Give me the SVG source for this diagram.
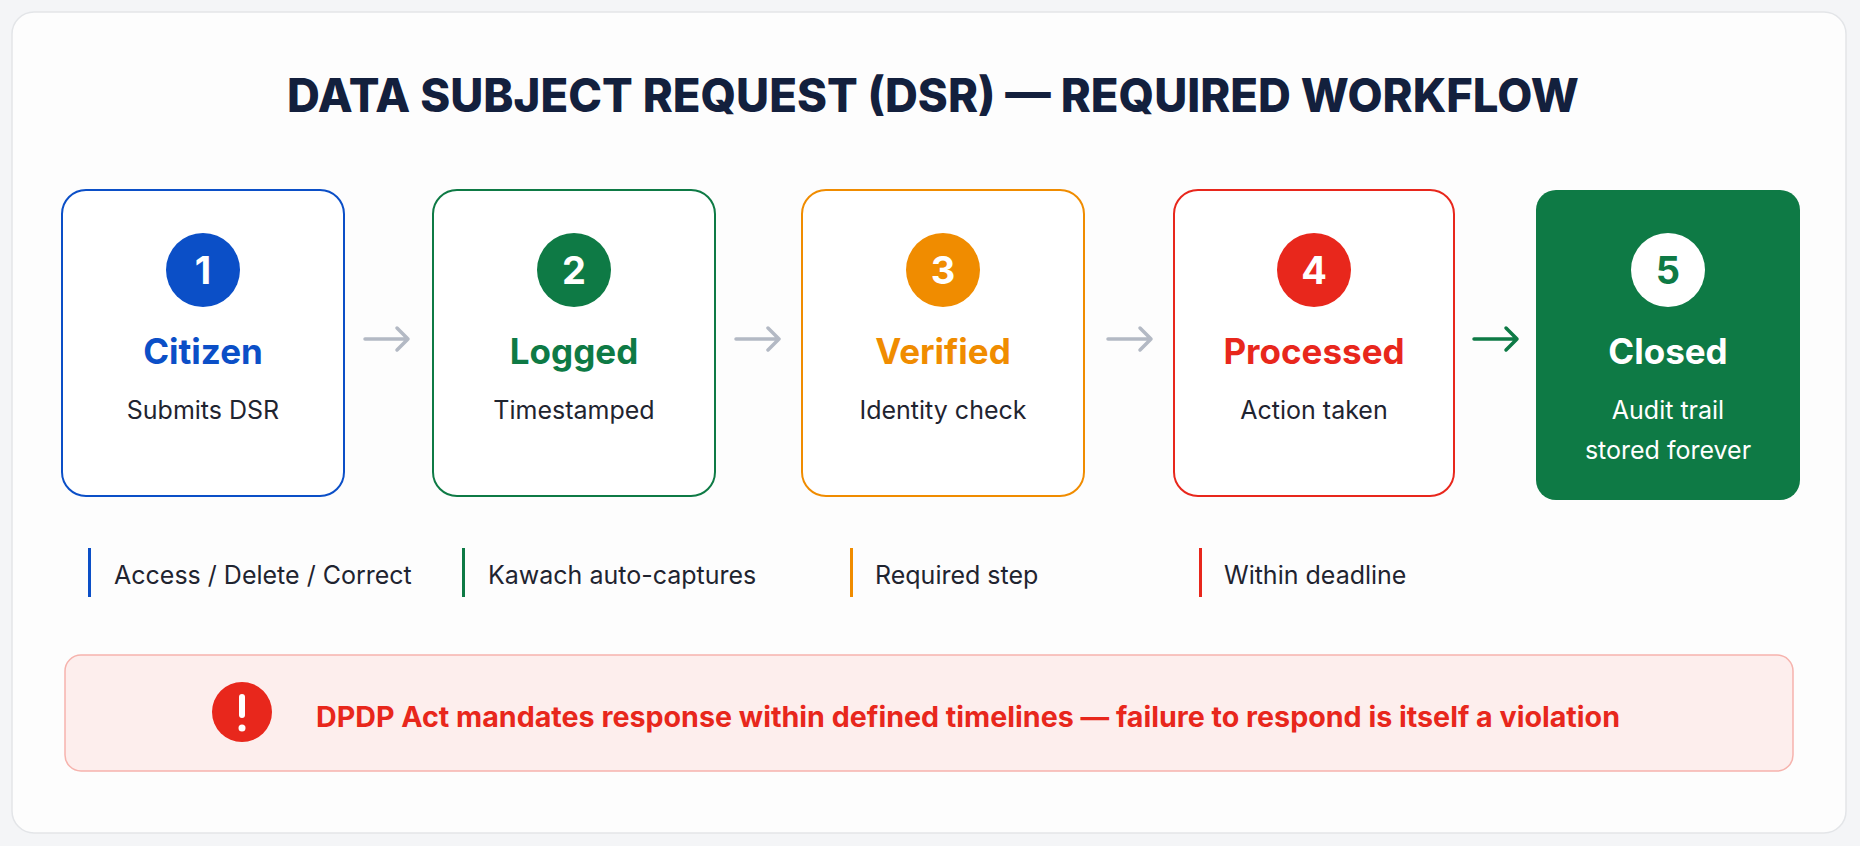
<svg xmlns="http://www.w3.org/2000/svg" width="1860" height="846" viewBox="0 0 1860 846">
<style>
text{font-family:"Inter","Liberation Sans",sans-serif;text-anchor:middle}
.num{font-size:38px;font-weight:700;fill:#fff}
.ttl{font-size:35px;font-weight:700}
.sub{font-size:25px;fill:#1f2430}
.leg{font-size:25px;fill:#1f2430;text-anchor:start}
.box{fill:#fff;stroke-width:2}
</style>
<rect width="1860" height="846" fill="#f4f5f7"/>
<rect x="12" y="12" width="1834" height="821" rx="22" fill="#fdfdfd" stroke="#e3e5e8" stroke-width="1.5"/>
<text x="933" y="112" style="font-size:46px;font-weight:800;fill:#13203d" textLength="1292" lengthAdjust="spacingAndGlyphs">DATA SUBJECT REQUEST (DSR) — REQUIRED WORKFLOW</text>
<g id="connectors" fill="none" stroke-width="3.5" stroke-linecap="round" stroke-linejoin="round">
<g stroke="#b3b9c4">
<path d="M365,339 H408 M397,328 L408,339 L397,350"/>
<path d="M736,339 H779 M768,328 L779,339 L768,350"/>
<path d="M1108,339 H1151 M1140,328 L1151,339 L1140,350"/>
</g>
<path stroke="#0e7a45" d="M1474,339 H1517 M1506,328 L1517,339 L1506,350"/>
</g>
<g id="n1"><rect class="box" x="62" y="190" width="282" height="306" rx="24" stroke="#0b4fc7"/><circle cx="203" cy="270" r="37" fill="#0b4fc7"/><text class="num" x="203" y="284">1</text><text class="ttl" x="203" y="364" fill="#0b4fc7">Citizen</text><text class="sub" x="203" y="419">Submits DSR</text></g>
<g id="n2"><rect class="box" x="433" y="190" width="282" height="306" rx="24" stroke="#0e7a45"/><circle cx="574" cy="270" r="37" fill="#0e7a45"/><text class="num" x="574" y="284">2</text><text class="ttl" x="574" y="364" fill="#0e7a45">Logged</text><text class="sub" x="574" y="419">Timestamped</text></g>
<g id="n3"><rect class="box" x="802" y="190" width="282" height="306" rx="24" stroke="#f08c00"/><circle cx="943" cy="270" r="37" fill="#f08c00"/><text class="num" x="943" y="284">3</text><text class="ttl" x="943" y="364" fill="#f08c00">Verified</text><text class="sub" x="943" y="419">Identity check</text></g>
<g id="n4"><rect class="box" x="1174" y="190" width="280" height="306" rx="24" stroke="#e8271c"/><circle cx="1314" cy="270" r="37" fill="#e8271c"/><text class="num" x="1314" y="284">4</text><text class="ttl" x="1314" y="364" fill="#e8271c">Processed</text><text class="sub" x="1314" y="419">Action taken</text></g>
<g id="n5"><rect x="1536" y="190" width="264" height="310" rx="20" fill="#0e7a45"/><circle cx="1668" cy="270" r="37" fill="#fff"/><text class="num" x="1668" y="284" style="fill:#0e7a45">5</text><text class="ttl" x="1668" y="364" fill="#fff">Closed</text><text class="sub" x="1668" y="419" style="fill:#fff">Audit trail</text><text class="sub" x="1668" y="459" style="fill:#fff">stored forever</text></g>
<g id="legend">
<rect x="88" y="548" width="3" height="49" fill="#0b4fc7"/><text class="leg" x="114" y="584">Access / Delete / Correct</text>
<rect x="462" y="548" width="3" height="49" fill="#0e7a45"/><text class="leg" x="488" y="584">Kawach auto-captures</text>
<rect x="850" y="548" width="3" height="49" fill="#f08c00"/><text class="leg" x="875" y="584">Required step</text>
<rect x="1199" y="548" width="3" height="49" fill="#e8271c"/><text class="leg" x="1224" y="584">Within deadline</text>
</g>
<g id="alert">
<rect x="65" y="655" width="1728" height="116" rx="16" fill="#fdeeed" stroke="#f6b3ad" stroke-width="1.5"/>
<circle cx="242" cy="712" r="30" fill="#e8271c"/>
<rect x="239" y="694" width="6" height="24" rx="3" fill="#fff"/><circle cx="242" cy="728" r="3.5" fill="#fff"/>
<text x="316" y="727" style="text-anchor:start;font-size:28px;font-weight:700;fill:#e8271c" textLength="1304" lengthAdjust="spacingAndGlyphs">DPDP Act mandates response within defined timelines — failure to respond is itself a violation</text>
</g>
</svg>
